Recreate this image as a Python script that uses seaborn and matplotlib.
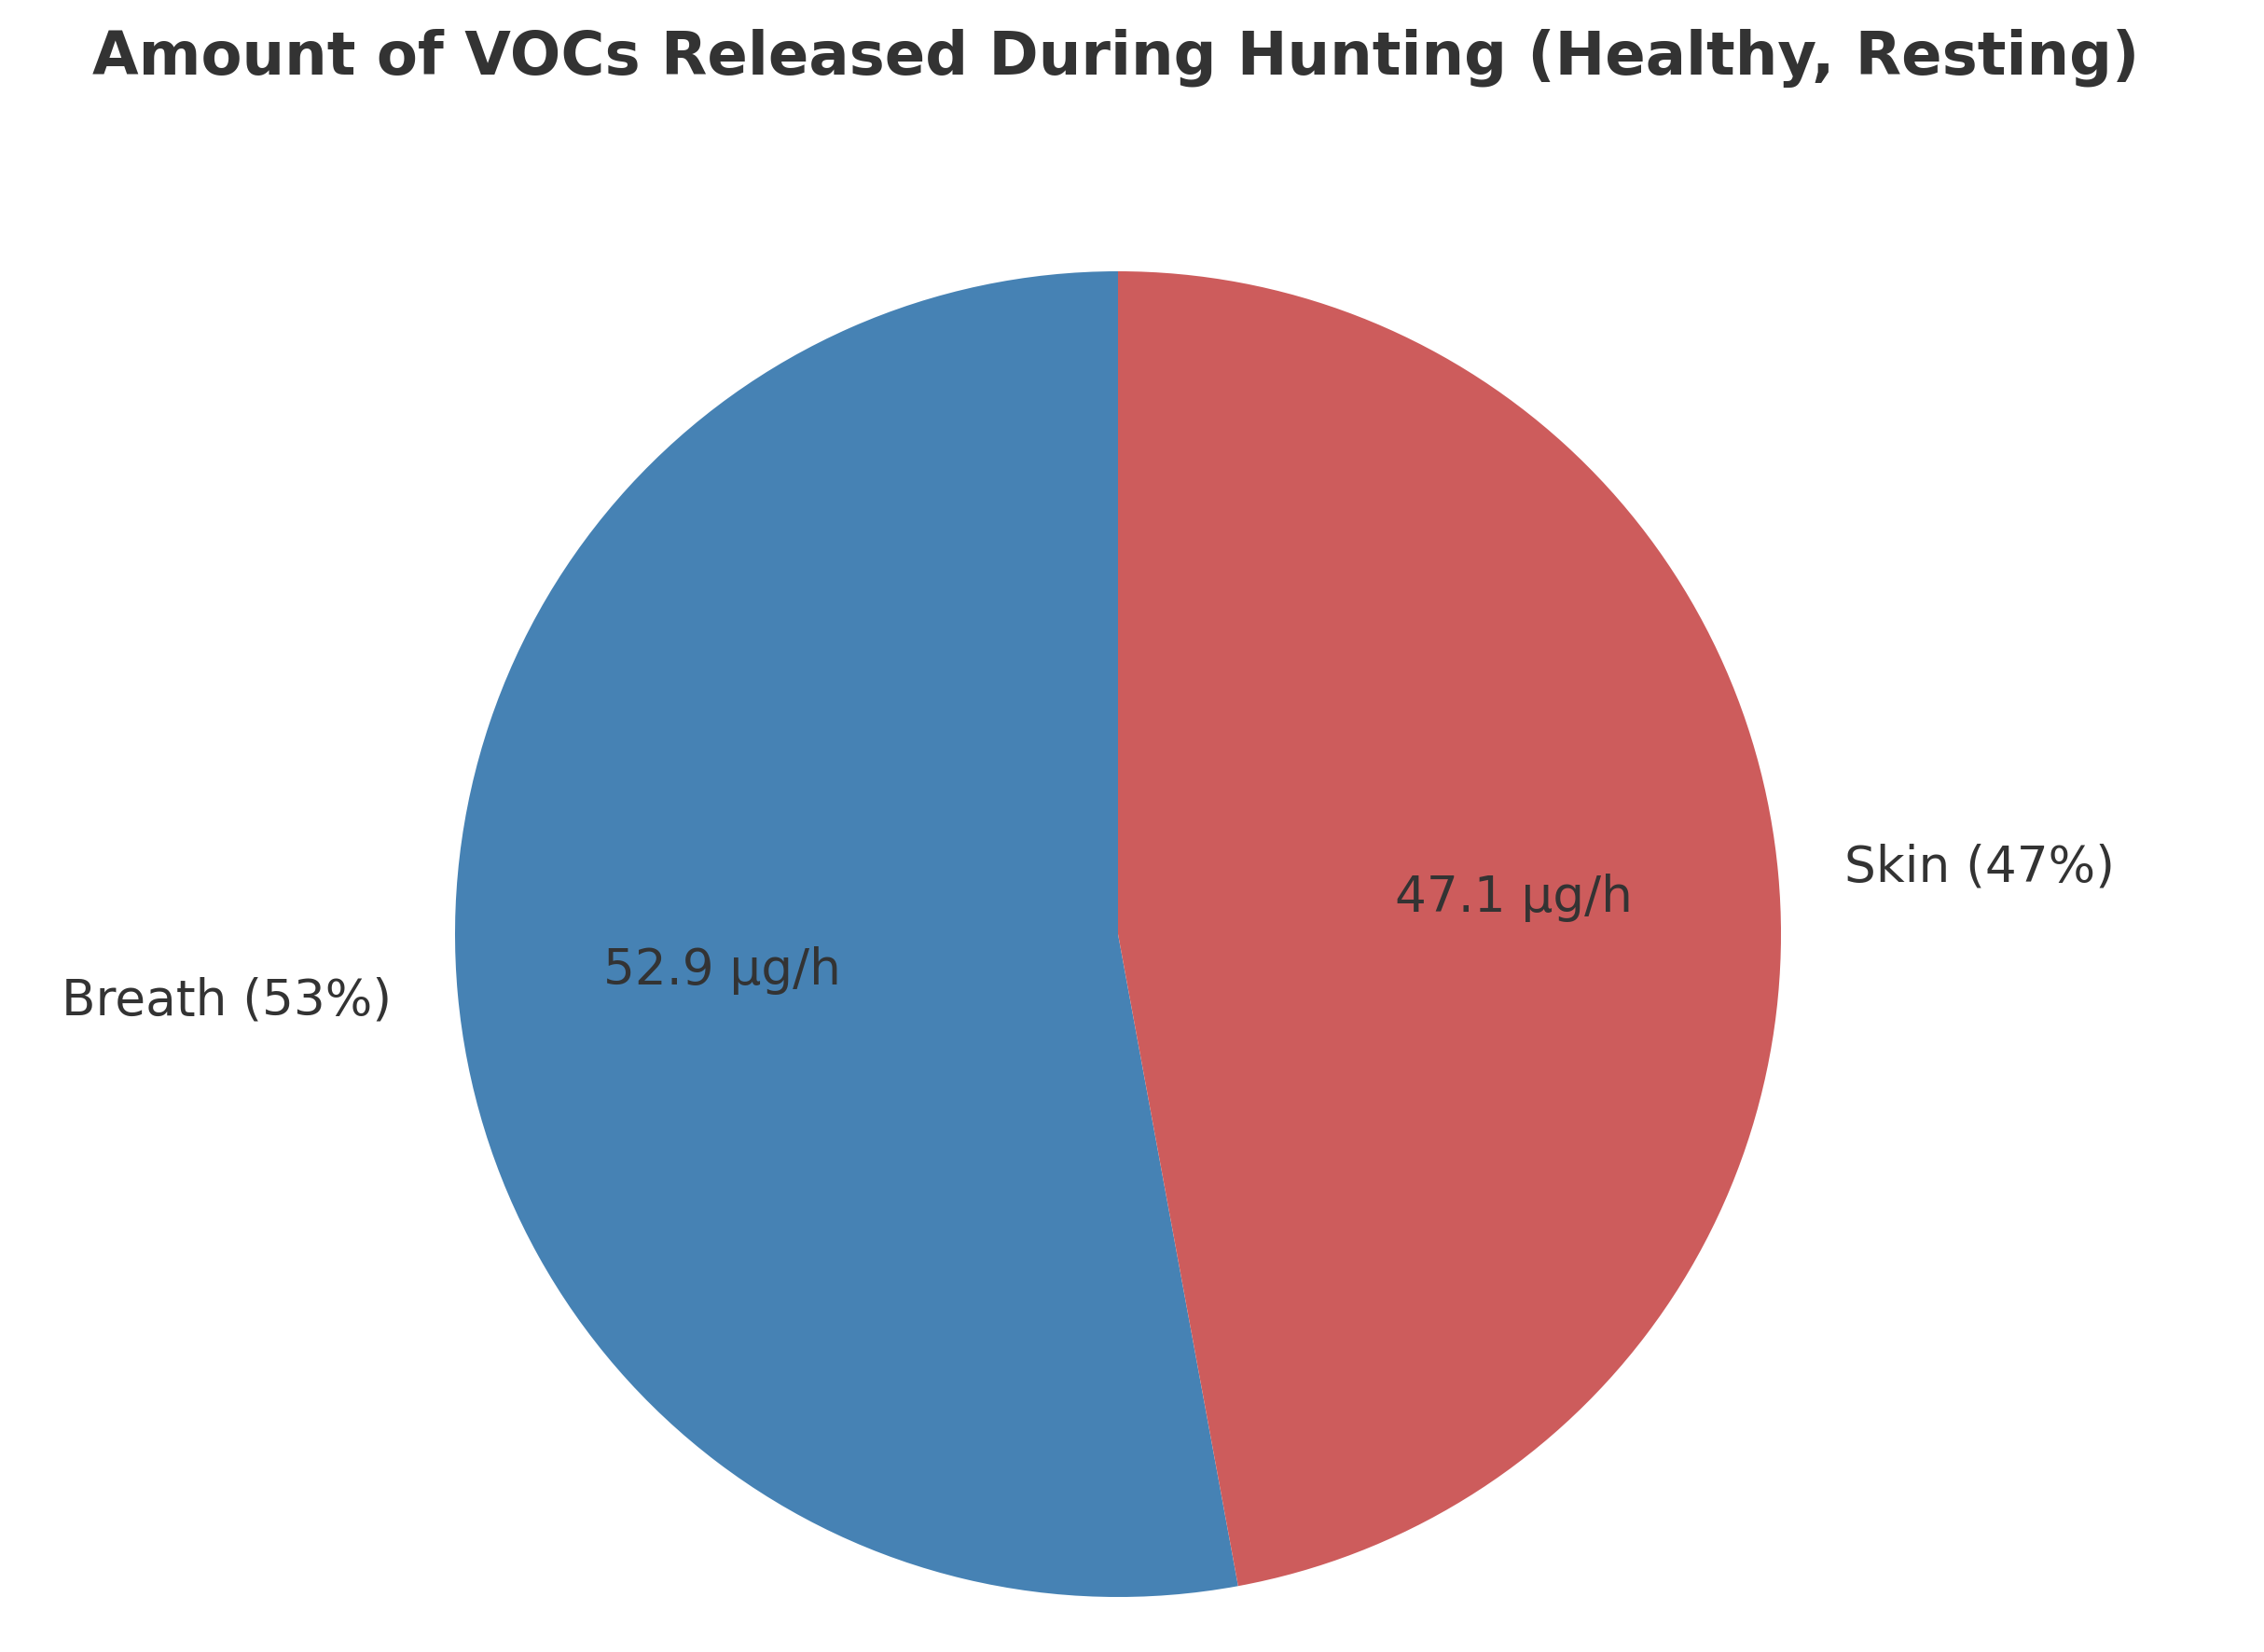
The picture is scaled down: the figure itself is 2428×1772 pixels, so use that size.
import matplotlib
matplotlib.use("Agg")
import matplotlib.pyplot as plt
import seaborn as sns

sources = ["Breath", "Skin"]
vocs_ug_h = [52.9, 47.1]
colors = ["#4682B4", "#CD5C5C"]

sns.set_theme(style="white")
plt.rcParams['font.family'] = ['DejaVu Sans']
plt.rcParams['text.color'] = '#333333'

total = sum(vocs_ug_h)
labels = [f"{s} ({v / total * 100:.0f}%)" for s, v in zip(sources, vocs_ug_h)]

fig = plt.figure(figsize=(12.14, 8.86), dpi=200)
ax = fig.add_axes([0, 0, 1, 1])

wedges, texts, autotexts = ax.pie(
    vocs_ug_h,
    labels=labels,
    colors=colors,
    startangle=90,
    autopct=lambda p: f"{p * total / 100:.1f} µg/h",
    pctdistance=0.6,
    labeldistance=1.1,
    wedgeprops={'linewidth': 0},
    textprops={'fontsize': 19.2, 'color': '#333333'},
)

# scale so the pie radius is ~711 px, centred at (1199, 1002) from top-left
r = 711
ax.set_aspect('auto')
ax.set_xlim(-1199 / r, (2428 - 1199) / r)
ax.set_ylim(-(1772 - 1002) / r, 1002 / r)
ax.axis('off')

fig.text(1197 / 2428, 1 - 62 / 1772,
         "Amount of VOCs Released During Hunting (Healthy, Resting)",
         ha='center', va='center', fontsize=23.1, fontweight='bold',
         color='#333333')

fig.savefig("out.png", dpi=200)
plt.close(fig)
